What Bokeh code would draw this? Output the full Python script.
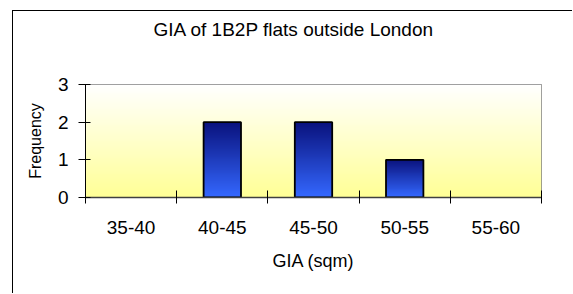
import numpy as np
from bokeh.plotting import figure
from bokeh.models import Range1d, FixedTicker
from bokeh.embed import file_html
from bokeh.resources import INLINE

categories = ["35-40", "40-45", "45-50", "50-55", "55-60"]
frequency = [0, 2, 2, 1, 0]
y_ticks = [0, 1, 2, 3]
title_text = "GIA of 1B2P flats outside London"
x_title = "GIA (sqm)"
y_title = "Frequency"

FONT = "Liberation Sans"
n_cat = len(categories)
y_max = max(y_ticks)

# figure placed at page (12, 10) with a 1px left/top border -> canvas at (13, 11)
OX, OY = 13, 11
FIG_W, FIG_H = 560, 283
FL, FR, FT, FB = 85 - OX, 541 - OX, 84 - OY, 197 - OY  # frame edges in canvas px

p = figure(width=FIG_W, height=FIG_H, output_backend="svg", toolbar_location=None,
           x_range=Range1d(0, n_cat), y_range=Range1d(0, y_max),
           min_border_left=FL, min_border_right=FIG_W - FR,
           min_border_top=FT, min_border_bottom=FIG_H - FB)
p.margin = (10, 0, 0, 12)
p.styles = {"border-left": "1px solid black", "border-top": "1px solid black"}
p.grid.visible = False
p.background_fill_color = None
p.border_fill_color = "white"
p.outline_line_color = "#808080"
p.outline_line_width = 1

# title: two trailing blank lines lift the visible line well above the plot area
p.title.text = title_text + "\n \n "
p.title.text_font = FONT
p.title.text_font_size = "19px"
p.title.text_font_style = "normal"
p.title.text_color = "black"
p.title.text_line_height = 1.05
p.title.align = "left"
p.title.offset = 68
p.title.standoff = 0


def rgba_column(n, c_bottom, c_top):
    img = np.zeros((n, 1), dtype=np.uint32)
    v = img.view(dtype=np.uint8).reshape((n, 1, 4))
    for i in range(n):
        t = i / (n - 1)
        c = np.array(c_bottom) + (np.array(c_top) - np.array(c_bottom)) * t
        v[i, 0, 0:3] = np.round(c).astype(np.uint8)
        v[i, 0, 3] = 255
    return img


# plot-area background gradient (pale yellow bottom -> white top)
p.image_rgba(image=[rgba_column(120, (255, 255, 150), (255, 255, 255))],
             x=0, y=0, dw=n_cat, dh=y_max)

# bars with vertical gradient
bar_w = 0.41
xs = [i + 0.5 for i, v in enumerate(frequency) if v > 0]
vs = [v for v in frequency if v > 0]
imgs = [rgba_column(int(40 * v), (52, 104, 255), (10, 18, 125)) for v in vs]
p.image_rgba(image=imgs, x=[x - bar_w / 2 for x in xs], y=[0] * len(xs),
             dw=[bar_w] * len(xs), dh=vs)
p.quad(left=[x - bar_w / 2 for x in xs], right=[x + bar_w / 2 for x in xs],
       bottom=0, top=vs, fill_color=None, line_color="black", line_width=1.8)

# x axis
xa = p.below[0]
xa.ticker = FixedTicker(ticks=[i + 0.5 for i in range(n_cat)], minor_ticks=list(range(n_cat + 1)))
xa.major_label_overrides = {i + 0.5: c for i, c in enumerate(categories)}
xa.major_tick_in = 0
xa.major_tick_out = 0
xa.minor_tick_in = 7
xa.minor_tick_out = 6
xa.minor_tick_line_color = "black"
xa.axis_line_color = "#404040"
xa.axis_line_width = 1.5
xa.major_label_text_font = FONT
xa.major_label_text_font_size = "19px"
xa.major_label_text_color = "black"
xa.major_label_standoff = 17
xa.axis_label = x_title
xa.axis_label_text_font = FONT
xa.axis_label_text_font_size = "18px"
xa.axis_label_text_font_style = "normal"
xa.axis_label_text_color = "black"
xa.axis_label_standoff = 14

ya = p.left[0]
ya.ticker = FixedTicker(ticks=y_ticks, minor_ticks=[])
ya.major_tick_in = 5
ya.major_tick_out = 7
ya.major_tick_line_color = "black"
ya.axis_line_color = "black"
ya.major_label_text_font = FONT
ya.major_label_text_font_size = "19px"
ya.major_label_text_color = "black"
ya.major_label_standoff = 10
ya.axis_label = y_title
ya.axis_label_text_font = FONT
ya.axis_label_text_font_size = "16px"
ya.axis_label_text_font_style = "normal"
ya.axis_label_text_color = "black"
ya.axis_label_standoff = 11

open("out.html", "w").write(file_html(p, INLINE))
